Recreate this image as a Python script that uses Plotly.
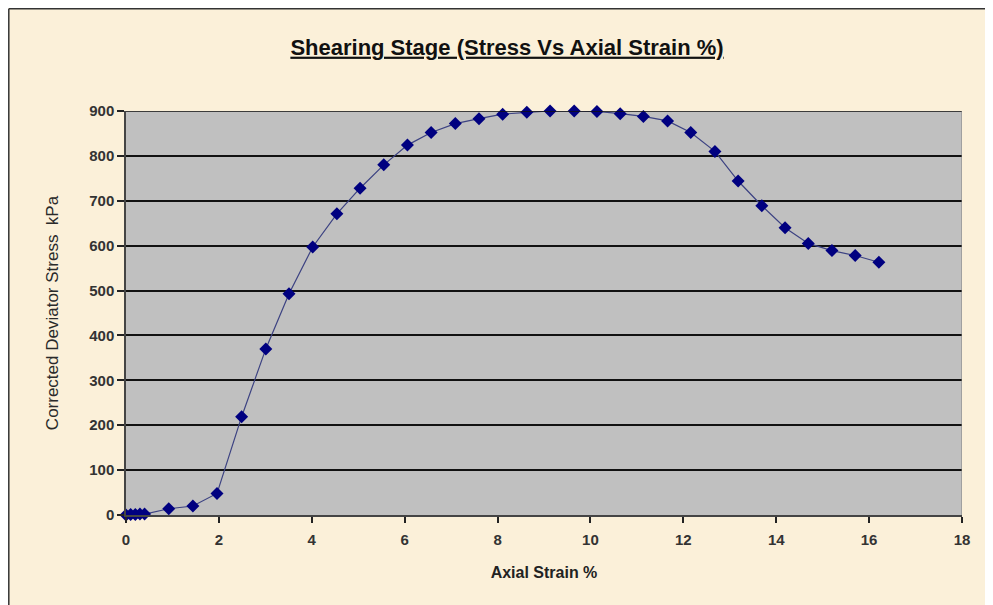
import plotly.graph_objects as go

# Data
axial_strain = [0.0, 0.1, 0.2, 0.3, 0.4, 0.92, 1.44, 1.96, 2.49, 3.01, 3.51, 4.02,
                4.54, 5.04, 5.55, 6.06, 6.57, 7.09, 7.60, 8.11, 8.63, 9.13, 9.65,
                10.14, 10.64, 11.14, 11.66, 12.16, 12.68, 13.18, 13.69, 14.19,
                14.69, 15.20, 15.70, 16.21]
deviator_stress = [0, 1, 1, 2, 2, 14, 20, 48, 219, 370, 493, 597,
                   671, 728, 780, 824, 852, 872, 883, 893, 897, 900, 900,
                   899, 894, 888, 878, 852, 810, 744, 689, 640,
                   605, 589, 578, 563]
x_ticks = [0, 2, 4, 6, 8, 10, 12, 14, 16, 18]
y_ticks = [0, 100, 200, 300, 400, 500, 600, 700, 800, 900]

title_text = "<u><b>Shearing Stage (Stress Vs Axial Strain %)</b></u>"
x_title = "Axial Strain %"
y_title = "Corrected Deviator Stress  kPa"

narrow_fam = "Liberation Sans Narrow, Arial Narrow, Liberation Sans, Arial, sans-serif"
tick_fam = "Liberation Sans, Arial, sans-serif"

W, H = 985, 597
L, R, T, B = 118, 31, 103, 90
PW, PH = W - L - R, H - T - B

fig = go.Figure()
fig.add_trace(go.Scatter(
    x=axial_strain, y=deviator_stress, mode="lines+markers",
    line=dict(color="#3c4282", width=1.2),
    marker=dict(symbol="diamond", size=10, color="#000080",
                line=dict(color="#000080", width=0)),
    cliponaxis=False, showlegend=False,
))

fig.update_layout(
    width=W, height=H,
    paper_bgcolor="#FBF0D9",
    plot_bgcolor="#C0C0C0",
    margin=dict(l=L, r=R, t=T, b=B),
    title=dict(text=title_text, x=(507 - 8) / W, xanchor="center",
               y=1 - (47 - 8) / H, yanchor="middle",
               font=dict(family=narrow_fam, size=22, color="#111111")),
    xaxis=dict(range=[0, 18], tickvals=x_ticks, ticks="outside", ticklen=6,
               tickcolor="#222222", tickwidth=1.5, showgrid=False, zeroline=False,
               showline=True, linecolor="#444444", linewidth=1.5,
               ticklabelstandoff=4,
               tickfont=dict(family=tick_fam, size=15, color="#333333", weight="bold"),
               title=dict(text=x_title, standoff=20,
                          font=dict(family=tick_fam, size=16, color="#222222",
                                    weight="bold"))),
    yaxis=dict(range=[0, 900], tickvals=y_ticks, ticks="outside", ticklen=7,
               tickcolor="#222222", tickwidth=1.5,
               showgrid=True, gridcolor="#111111", gridwidth=1.5,
               zeroline=False, showline=True, linecolor="#444444", linewidth=1.5,
               tickfont=dict(family=tick_fam, size=15, color="#333333", weight="bold"),
               title=dict(text=y_title, standoff=26,
                          font=dict(family=tick_fam, size=17, color="#2a2a2a"))),
    shapes=[
        dict(type="line", xref="x", yref="y", x0=0, x1=18, y0=900, y1=900,
             line=dict(color="#111111", width=1.5)),
        dict(type="line", xref="x", yref="y", x0=18, x1=18, y0=0, y1=900,
             line=dict(color="#808080", width=1)),
        # Outer chart border (left and top visible in the reference)
        dict(type="line", xref="paper", yref="paper",
             x0=-(L - 0.8) / PW, x1=-(L - 0.8) / PW, y0=-(B + 10) / PH, y1=1 + (T - 0.8) / PH,
             line=dict(color="#333333", width=1.5)),
        dict(type="line", xref="paper", yref="paper",
             x0=-(L - 0.8) / PW, x1=1 + (R + 10) / PW, y0=1 + (T - 0.8) / PH, y1=1 + (T - 0.8) / PH,
             line=dict(color="#333333", width=1.5)),
    ],
)

fig.write_html("out.html")
